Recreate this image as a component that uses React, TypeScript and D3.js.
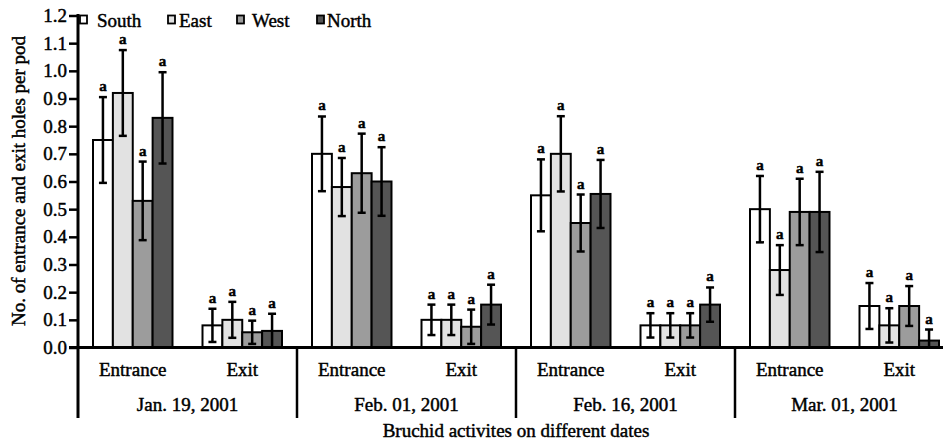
import React, { useEffect, useRef } from 'react';
import * as d3 from 'd3';

const dates = ['Jan. 19, 2001', 'Feb. 01, 2001', 'Feb. 16, 2001', 'Mar. 01, 2001'];
const activities = ['Entrance', 'Exit'];
const directions = ['South', 'East', 'West', 'North'];
const fills = ['#ffffff', '#e2e2e2', '#9c9c9c', '#555555'];

// order of values: Jan Entrance, Jan Exit, Feb01 Entrance, Feb01 Exit, Feb16 ..., Mar01 ...
const southMeans = [0.75, 0.08, 0.70, 0.10, 0.55, 0.08, 0.50, 0.15];
const eastMeans = [0.92, 0.10, 0.58, 0.10, 0.70, 0.08, 0.28, 0.08];
const westMeans = [0.53, 0.055, 0.63, 0.075, 0.45, 0.08, 0.49, 0.15];
const northMeans = [0.83, 0.06, 0.60, 0.155, 0.555, 0.155, 0.49, 0.025];

const southErr = [0.155, 0.06, 0.135, 0.055, 0.13, 0.044, 0.12, 0.083];
const eastErr = [0.155, 0.065, 0.105, 0.055, 0.136, 0.044, 0.09, 0.062];
const westErr = [0.142, 0.042, 0.143, 0.062, 0.103, 0.044, 0.12, 0.072];
const northErr = [0.165, 0.062, 0.124, 0.072, 0.123, 0.062, 0.145, 0.04];

const letters = ['a', 'a', 'a', 'a', 'a', 'a', 'a', 'a'];

const yTicks = [0, 0.1, 0.2, 0.3, 0.4, 0.5, 0.6, 0.7, 0.8, 0.9, 1.0, 1.1, 1.2];

const means = [southMeans, eastMeans, westMeans, northMeans];
const errs = [southErr, eastErr, westErr, northErr];

const FONT = "'Liberation Serif', 'Tinos', 'Times New Roman', 'DejaVu Serif', serif";

const App = () => {
  const ref = useRef<SVGSVGElement>(null);

  useEffect(() => {
    const width = 943;
    const height = 444;
    const left = 78;
    const right = 954;
    const bottom = 418;

    const svg = d3.select(ref.current);
    svg.selectAll('*').remove();
    svg.attr('width', width).attr('height', height)
      .style('font-family', FONT);

    const groups = dates.flatMap(d => activities.map(a => `${d}|${a}`));

    const x = d3.scaleBand().domain(groups).range([left, right])
      .paddingInner(0.274).paddingOuter(0.137);
    const xs = d3.scaleBand().domain(directions).range([0, x.bandwidth()]);
    const xDate = d3.scaleBand().domain(dates).range([left, right]);
    const y = d3.scaleLinear().domain([0, 1.2]).range([347.5, 15.5]);

    // bars
    directions.forEach((dir, i) => {
      svg.append('g')
        .selectAll('rect')
        .data(groups)
        .enter()
        .append('rect')
        .attr('x', g => (x(g) as number) + (xs(dir) as number))
        .attr('y', (_, j) => y(means[i][j]))
        .attr('width', xs.bandwidth())
        .attr('height', (_, j) => y(0) - y(means[i][j]))
        .attr('fill', fills[i])
        .attr('stroke', '#000')
        .attr('stroke-width', 2);
    });

    // error bars and letters
    directions.forEach((dir, i) => {
      const g = svg.append('g');
      groups.forEach((grp, j) => {
        const cx = (x(grp) as number) + (xs(dir) as number) + xs.bandwidth() / 2;
        const hi = y(means[i][j] + errs[i][j]);
        const lo = y(Math.max(0, means[i][j] - errs[i][j]));
        g.append('line').attr('x1', cx).attr('x2', cx).attr('y1', hi).attr('y2', lo)
          .attr('stroke', '#000').attr('stroke-width', 2.5);
        [hi, lo].forEach(v => {
          g.append('line').attr('x1', cx - 4).attr('x2', cx + 4).attr('y1', v).attr('y2', v)
            .attr('stroke', '#000').attr('stroke-width', 2.5);
        });
        g.append('text')
          .attr('x', cx)
          .attr('y', hi - 6)
          .attr('text-anchor', 'middle')
          .attr('font-family', FONT)
          .attr('font-weight', 'bold')
          .attr('font-size', 15)
          .text(letters[j]);
      });
    });

    // y axis
    const yAxis = d3.axisLeft(y)
      .tickValues(yTicks)
      .tickFormat(d3.format('.1f'))
      .tickSize(9)
      .tickSizeOuter(0);
    const ya = svg.append('g').attr('transform', `translate(${left},0)`).call(yAxis);
    ya.attr('font-family', FONT).attr('font-size', 19);
    ya.select('.domain').remove();
    ya.selectAll('.tick line').attr('stroke', '#000').attr('stroke-width', 2.5);
    ya.selectAll('.tick text')
      .attr('x', -11)
      .attr('fill', '#000');

    svg.append('line').attr('x1', left).attr('x2', left).attr('y1', 14).attr('y2', bottom)
      .attr('stroke', '#000').attr('stroke-width', 3);

    // baseline
    svg.append('line').attr('x1', left - 9).attr('x2', width).attr('y1', y(0)).attr('y2', y(0))
      .attr('stroke', '#000').attr('stroke-width', 3);

    // date separators
    dates.forEach(d => {
      const sx = (xDate(d) as number) + xDate.bandwidth();
      svg.append('line').attr('x1', sx).attr('x2', sx).attr('y1', y(0)).attr('y2', bottom)
        .attr('stroke', '#000').attr('stroke-width', 2.5);
    });

    // activity labels
    svg.append('g')
      .selectAll('text')
      .data(groups)
      .enter()
      .append('text')
      .attr('x', g => (x(g) as number) + x.bandwidth() / 2)
      .attr('y', 376)
      .attr('text-anchor', 'middle')
      .attr('font-family', FONT)
      .attr('font-size', 19)
      .text(g => g.split('|')[1]);

    // date labels
    svg.append('g')
      .selectAll('text')
      .data(dates)
      .enter()
      .append('text')
      .attr('x', d => (xDate(d) as number) + xDate.bandwidth() / 2)
      .attr('y', 411)
      .attr('text-anchor', 'middle')
      .attr('font-family', FONT)
      .attr('font-size', 19)
      .text(d => d);

    // axis titles
    svg.append('text')
      .attr('x', (left + right) / 2)
      .attr('y', 437)
      .attr('text-anchor', 'middle')
      .attr('font-family', FONT)
      .attr('font-size', 19)
      .text('Bruchid activites on different dates');

    svg.append('text')
      .attr('transform', `translate(25,${(15 + 347) / 2}) rotate(-90)`)
      .attr('text-anchor', 'middle')
      .attr('font-family', FONT)
      .attr('font-size', 19)
      .text('No. of entrance and exit holes per pod');

    // legend
    const boxX = [80, 168, 237, 317];
    const textX = [97, 179, 252, 327];
    const legend = svg.append('g');
    directions.forEach((dir, i) => {
      legend.append('rect')
        .attr('x', boxX[i]).attr('y', 15.5)
        .attr('width', 7).attr('height', 8)
        .attr('fill', fills[i])
        .attr('stroke', '#000').attr('stroke-width', 1.8);
      legend.append('text')
        .attr('x', textX[i]).attr('y', 27)
        .attr('font-family', FONT)
        .attr('font-size', 19)
        .text(dir);
    });

    // the scanned figure has heavy type, thicken all text a little
    svg.selectAll('text')
      .attr('stroke', '#000')
      .attr('stroke-width', 0.45);
  }, []);

  return (
    <svg ref={ref} style={{ position: 'absolute', left: 0, top: 0, background: '#fff' }} />
  );
};

export default App;
